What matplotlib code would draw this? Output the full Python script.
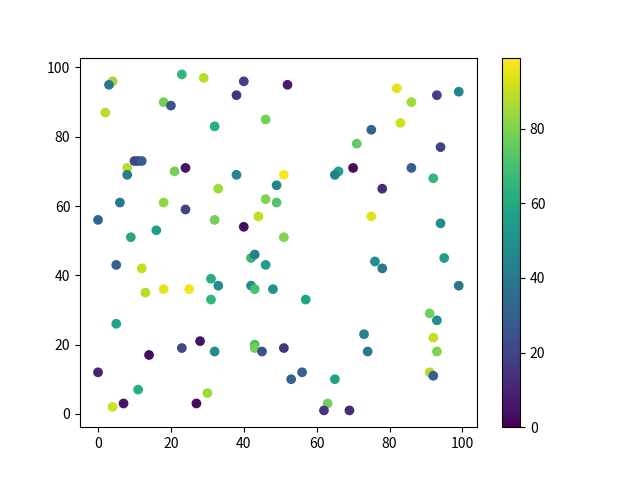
import matplotlib
matplotlib.use("Agg")
import matplotlib.pyplot as plt
import numpy as np

plt.rcParams['font.family'] = ['Noto Sans CJK SC', 'DejaVu Sans']

x = [4, 3, 23, 29, 40, 38, 18, 20, 2, 46, 32, 10, 11, 12, 8, 8, 24, 21, 38, 51,
     49, 33, 6, 18, 24, 46, 49, 44, 32, 40, 0, 16, 9, 51, 52, 82, 86, 93, 99, 75,
     83, 71, 94, 66, 65, 70, 86, 92, 78, 75, 94, 5, 12, 13, 18, 25, 31, 33, 31, 42,
     43, 46, 42, 43, 48, 5, 28, 23, 32, 43, 43, 45, 51, 14, 0, 11, 30, 4, 7, 27,
     76, 78, 95, 99, 57, 91, 93, 73, 74, 92, 93, 56, 53, 65, 91, 92, 63, 62, 69]
y = [96, 95, 98, 97, 96, 92, 90, 89, 87, 85, 83, 73, 73, 73, 71, 69, 71, 70, 69, 69,
     66, 65, 61, 61, 59, 62, 61, 57, 56, 54, 56, 53, 51, 51, 95, 94, 90, 92, 93, 82,
     84, 78, 77, 70, 69, 71, 71, 68, 65, 57, 55, 43, 42, 35, 36, 36, 39, 37, 33, 45,
     46, 43, 37, 36, 36, 26, 21, 19, 18, 20, 19, 18, 19, 17, 12, 7, 6, 2, 3, 3,
     44, 42, 45, 37, 33, 29, 27, 23, 18, 22, 18, 12, 10, 10, 12, 11, 3, 1, 1]
c = [85, 40, 65, 88, 18, 15, 78, 25, 88, 78, 62, 20, 22, 28, 88, 42, 5, 78, 45, 98,
     45, 85, 40, 82, 20, 80, 72, 90, 78, 3, 32, 55, 60, 80, 8, 95, 85, 18, 45, 32,
     92, 75, 20, 55, 42, 3, 30, 65, 12, 94, 48, 30, 90, 88, 95, 97, 62, 48, 65, 65,
     42, 55, 48, 70, 50, 58, 5, 22, 48, 70, 78, 25, 15, 3, 10, 62, 85, 92, 5, 3,
     48, 40, 55, 38, 58, 78, 48, 45, 40, 90, 80, 30, 32, 58, 88, 30, 78, 15, 12]

fig, ax = plt.subplots(figsize=(6.4, 4.8), dpi=100)
sc = ax.scatter(x, y, c=c, cmap='viridis', vmin=0, vmax=99)
fig.colorbar(sc, ax=ax)
fig.savefig('out.png')
